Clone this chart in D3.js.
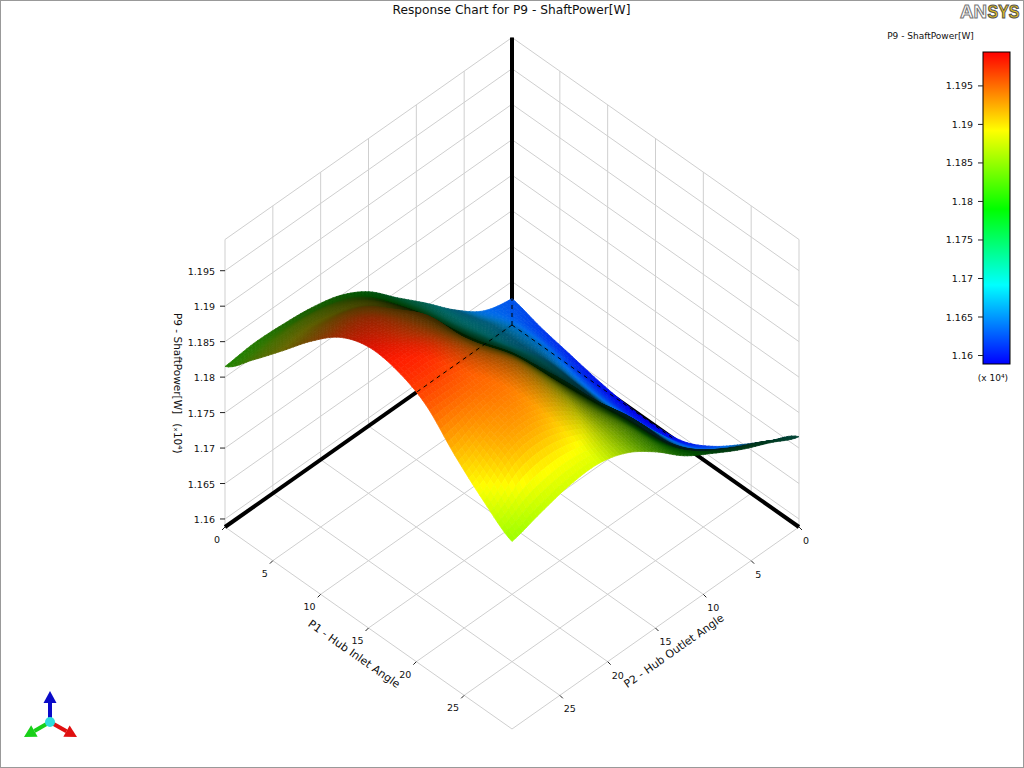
<!DOCTYPE html>
<html><head><meta charset="utf-8">
<script src="https://cdn.jsdelivr.net/npm/d3@7"></script>
<style>html,body{margin:0;padding:0;background:#fff}svg{display:block}text{font-family:"DejaVu Sans";fill:#111}</style>
</head><body><svg id="c" width="1024" height="768"></svg>
<script>
const TITLE = "Response Chart for P9 - ShaftPower[W]";
const Z_NAME = "P9 - ShaftPower[W]";
const P1_NAME = "P1 - Hub Inlet Angle";
const P2_NAME = "P2 - Hub Outlet Angle";
const P1_TICKS = [0,5,10,15,20,25];
const P2_TICKS = [0,5,10,15,20,25];
const Z_TICKS = [1.16,1.165,1.17,1.175,1.18,1.185,1.19,1.195];
const P1_GRID = [0,3,6,9,12,15,18,21,24,27,30];
const P2_GRID = [0,3,6,9,12,15,18,21,24,27,30];
// rows: P1, columns: P2, values: P9 (x 10^4)
const P9_VALUES = [
[1.1626,1.1637,1.1667,1.1705,1.1741,1.1778,1.1801,1.1812,1.1817,1.1819,1.1815],
[1.1614,1.1645,1.1674,1.1706,1.1748,1.1788,1.1826,1.1848,1.1858,1.1858,1.1853],
[1.1605,1.1645,1.1675,1.1713,1.1753,1.1801,1.1843,1.1878,1.1892,1.1898,1.1894],
[1.1596,1.1637,1.1682,1.1722,1.1762,1.1808,1.1857,1.1894,1.1927,1.1939,1.1936],
[1.1590,1.1631,1.1681,1.1727,1.1777,1.1816,1.1861,1.1916,1.1944,1.1967,1.1970],
[1.1589,1.1631,1.1678,1.1733,1.1781,1.1829,1.1867,1.1919,1.1953,1.1973,1.1985],
[1.1595,1.1637,1.1689,1.1734,1.1786,1.1834,1.1888,1.1927,1.1958,1.1978,1.1980],
[1.1617,1.1644,1.1688,1.1741,1.1789,1.1840,1.1891,1.1936,1.1953,1.1958,1.1960],
[1.1648,1.1669,1.1698,1.1743,1.1795,1.1841,1.1885,1.1925,1.1942,1.1935,1.1918],
[1.1682,1.1702,1.1723,1.1753,1.1796,1.1843,1.1875,1.1903,1.1920,1.1916,1.1882],
[1.1716,1.1736,1.1755,1.1778,1.1803,1.1837,1.1864,1.1877,1.1875,1.1865,1.1853]
];
const COLOR_DOMAIN = [1.1589,1.16915,1.1790,1.1892,1.1994];
const COLOR_RANGE = ["#0000ff","#00ffff","#00ff00","#ffff00","#ff0000"];
const Z_DOMAIN = [1.15887,1.1994];

const svg = d3.select("#c");
const GREY = "#cfcfcf";
const P_MAX = 30;
const xs = d3.scaleLinear().domain([0,P_MAX]).range([0,287]);
const ys = d3.scaleLinear().domain([0,P_MAX]).range([0,202]);
const zs = d3.scaleLinear().domain(Z_DOMAIN).range([0,287.5]);
const color = d3.scaleLinear().domain(COLOR_DOMAIN).range(COLOR_RANGE).clamp(true);
const OX = 512, OY = 325;
const proj = (a,b,z) => [OX + xs(a) - xs(b), OY + ys(a) + ys(b) - (z==null?0:zs(z))];
const line = d3.line();
const [zLo,zHi] = Z_DOMAIN;

// walls and floor grid
const g = svg.append("g").attr("fill","none").attr("stroke",GREY).attr("stroke-width",1);
const seg = (pts,s=g)=>s.append("path").attr("d",line(pts));
P1_TICKS.concat([P_MAX]).forEach(t=>{
  seg([proj(t,0),proj(t,P_MAX)]);
  seg([proj(t,0),proj(t,0,zHi)]);
});
P2_TICKS.concat([P_MAX]).forEach(t=>{
  seg([proj(0,t),proj(P_MAX,t)]);
  seg([proj(0,t),proj(0,t,zHi)]);
});
Z_TICKS.concat([zHi]).forEach(z=>{
  seg([proj(0,P_MAX,z),proj(0,0,z),proj(P_MAX,0,z)]);
});

// heavy axes
const heavy = svg.append("g").attr("fill","none").attr("stroke","#000").attr("stroke-width",4);
seg([proj(0,P_MAX),proj(0,0)],heavy);
seg([proj(P_MAX,0),proj(0,0)],heavy);
seg([proj(0,0),proj(0,0,zHi)],heavy);

// ticks
const tk = svg.append("g").attr("stroke","#222").attr("stroke-width",1).attr("fill","none");
P1_TICKS.forEach(t=>{const p=proj(t,P_MAX); tk.append("path").attr("d",line([p,[p[0]-3,p[1]+3]]));});
P2_TICKS.forEach(t=>{const p=proj(P_MAX,t); tk.append("path").attr("d",line([p,[p[0]+3,p[1]+3]]));});
Z_TICKS.forEach(z=>{const p=proj(0,P_MAX,z); tk.append("path").attr("d",line([p,[p[0]-5,p[1]]]));});

const labels = svg.append("g").attr("font-size",9.5);
P1_TICKS.forEach(t=>{const p=proj(t,P_MAX);
  labels.append("text").attr("x",p[0]-5).attr("y",p[1]+16).attr("text-anchor","end").text(t);});
P2_TICKS.forEach(t=>{const p=proj(P_MAX,t);
  labels.append("text").attr("x",p[0]+4).attr("y",p[1]+17).attr("text-anchor","start").text(t);});
Z_TICKS.forEach(z=>{const p=proj(0,P_MAX,z);
  labels.append("text").attr("x",p[0]-10).attr("y",p[1]+4).attr("text-anchor","end").text(d3.format("~g")(z));});

// surface: Catmull-Rom patches through the grid values, drawn back to front
const SUB = 8, nI = P1_GRID.length, nJ = P2_GRID.length;
const cr = (p0,p1,p2,p3,t)=>0.5*((2*p1)+(-p0+p2)*t+(2*p0-5*p1+4*p2-p3)*t*t+(-p0+3*p1-3*p2+p3)*t*t*t);
const V = (i,j)=>P9_VALUES[Math.max(0,Math.min(nI-1,i))][Math.max(0,Math.min(nJ-1,j))];
function sample(a,b){
  const fa=a/SUB, fb=b/SUB;
  const i=Math.min(nI-2,Math.floor(fa)), j=Math.min(nJ-2,Math.floor(fb));
  const ta=fa-i, tb=fb-j, r=[];
  for(let k=-1;k<=2;k++) r.push(cr(V(i+k,j-1),V(i+k,j),V(i+k,j+1),V(i+k,j+2),tb));
  return cr(r[0],r[1],r[2],r[3],ta);
}
const N=(nI-1)*SUB, M=(nJ-1)*SUB, W=M+1;
const flat=new Float64Array(W*(N+1));
for(let a=0;a<=N;a++)for(let b=0;b<=M;b++)flat[a*W+b]=sample(a,b);
const p1At=a=>a/SUB*(P1_GRID[1]-P1_GRID[0]), p2At=b=>b/SUB*(P2_GRID[1]-P2_GRID[0]);
const stepReal = 406/N, COS = 0.71, vv=[0.5,0.5,0.707];
const k=zs(zLo+1)-zs(zLo);
// slopes of each cell, softened so that reading noise does not show as ripples
const gA=new Float64Array(N*M), gB=new Float64Array(N*M);
for(let a=0;a<N;a++)for(let b=0;b<M;b++){
  const z00=flat[a*W+b],z10=flat[(a+1)*W+b],z01=flat[a*W+b+1],z11=flat[(a+1)*W+b+1];
  gA[a*M+b]=(z10+z11-z00-z01)/2*k/COS/stepReal;
  gB[a*M+b]=(z01+z11-z00-z10)/2*k/COS/stepReal;
}
d3.blur2({data:gA,width:M,height:N},6);
d3.blur2({data:gB,width:M,height:N},6);
// the deep-blue part of the sheet stays lit, as in the picture
const BLUE_LIFT = d3.scaleLinear().domain([1.1665,1.1635]).range([0,1]).clamp(true);
const quads=[];
for(let a=0;a<N;a++)for(let b=0;b<M;b++){
  const z00=flat[a*W+b],z10=flat[(a+1)*W+b],z01=flat[a*W+b+1],z11=flat[(a+1)*W+b+1];
  const zm=(z00+z10+z01+z11)/4;
  const ga=gA[a*M+b], gb=gB[a*M+b];
  const nl=Math.hypot(ga,gb,1);
  const nv=Math.abs(-ga*vv[0]-gb*vv[1]+vv[2])/nl;
  let bright=Math.min(1,1.27*Math.pow(nv,0.65));
  bright=Math.max(bright,bright+(0.92-bright)*BLUE_LIFT(zm));
  const c=d3.rgb(color(zm));
  const col=d3.rgb(c.r*bright,c.g*bright,c.b*bright).formatHex();
  quads.push({pts:[proj(p1At(a),p2At(b),z00),proj(p1At(a+1),p2At(b),z10),proj(p1At(a+1),p2At(b+1),z11),proj(p1At(a),p2At(b+1),z01)],col});
}
svg.append("g").selectAll("path").data(quads).join("path")
  .attr("d",d=>line(d.pts)+"Z").attr("fill",d=>d.col).attr("stroke",d=>d.col).attr("stroke-width",0.7);

// hidden-axis dashes on top of the surface
const dash = svg.append("g").attr("fill","none").attr("stroke","#000").attr("stroke-width",1).attr("stroke-dasharray","4 4");
seg([proj(0,0),proj(0,9.9)],dash);
seg([proj(0,0),proj(17,0)],dash);
seg([proj(0,0),proj(0,0,P9_VALUES[0][0])],dash);

// texts
svg.append("text").attr("x",511.5).attr("y",14).attr("text-anchor","middle").attr("font-size",12.2).text(TITLE);
const rotLabel=(t,x,y,ang,fs)=>svg.append("text").attr("transform",`translate(${x},${y}) rotate(${ang})`).attr("text-anchor","middle").attr("font-size",fs).text(t);
const ANG = Math.atan2(202,287)*180/Math.PI;
rotLabel(P1_NAME,352,657,ANG,11);
rotLabel(P2_NAME,676,654,-ANG,11);
const zl=svg.append("text").attr("transform","translate(174,313) rotate(90)").attr("font-size",10.5).text(Z_NAME);
zl.append("tspan").attr("dx",9).text("(ₓ10⁴)");

// colour bar
const barY = d3.scaleLinear().domain([Z_DOMAIN[0]+0.00003,Z_DOMAIN[1]]).range([364,52]);
const grad = svg.append("defs").append("linearGradient").attr("id","lg").attr("x1",0).attr("x2",0).attr("y1",1).attr("y2",0);
COLOR_DOMAIN.forEach(d=>grad.append("stop").attr("offset",(d-COLOR_DOMAIN[0])/(COLOR_DOMAIN[4]-COLOR_DOMAIN[0])).attr("stop-color",color(d)));
svg.append("rect").attr("x",983).attr("y",52).attr("width",27).attr("height",312).attr("fill","url(#lg)").attr("stroke","#000").attr("stroke-width",1);
Z_TICKS.forEach(z=>{
  const y=barY(z);
  svg.append("path").attr("d",line([[978,y],[983,y]])).attr("stroke","#222").attr("fill","none");
  svg.append("text").attr("x",973).attr("y",y+3.5).attr("text-anchor","end").attr("font-size",9.5).text(d3.format("~g")(z));
});
svg.append("text").attr("x",930.5).attr("y",38.5).attr("text-anchor","middle").attr("font-size",9).text(Z_NAME);
svg.append("text").attr("x",993).attr("y",381).attr("text-anchor","middle").attr("font-size",9).text("(x 10⁴)");

// logo
const logoPart=(t,x,sx,fill,st)=>svg.append("text").attr("transform",`translate(${x},17.5) scale(${sx},1.2)`).attr("font-size",16)
  .style("font-family","'Liberation Sans'").style("fill",fill).attr("font-weight","bold").attr("stroke",st).attr("stroke-width",0.9).text(t);
logoPart("AN",960,1.17,"#fff","#777");
logoPart("SYS",987.5,1,"#e6c21e","#555");

// triad
const triad=svg.append("g").attr("fill","none").attr("stroke-width",4);
const arrow=(x2,y2,c)=>{
  const x0=50,y0=722, dx=x2-x0, dy=y2-y0, L=Math.hypot(dx,dy), ux=dx/L, uy=dy/L;
  const bx=x2-ux*12, by=y2-uy*12;
  triad.append("path").attr("d",line([[x0,y0],[bx,by]])).attr("stroke",c);
  triad.append("path").attr("d",line([[x2,y2],[bx-uy*6.5,by+ux*6.5],[bx+uy*6.5,by-ux*6.5]])+"Z").attr("fill",c).attr("stroke","none");
};
arrow(50,691,"#0a0ac8");
arrow(24,737,"#18d018");
arrow(77,737,"#e01010");
svg.append("circle").attr("cx",50).attr("cy",722).attr("r",5).attr("fill","#30dcdc");

// frame
svg.append("rect").attr("x",0.5).attr("y",0.5).attr("width",1023).attr("height",767).attr("fill","none").attr("stroke","#999");
</script></body></html>
